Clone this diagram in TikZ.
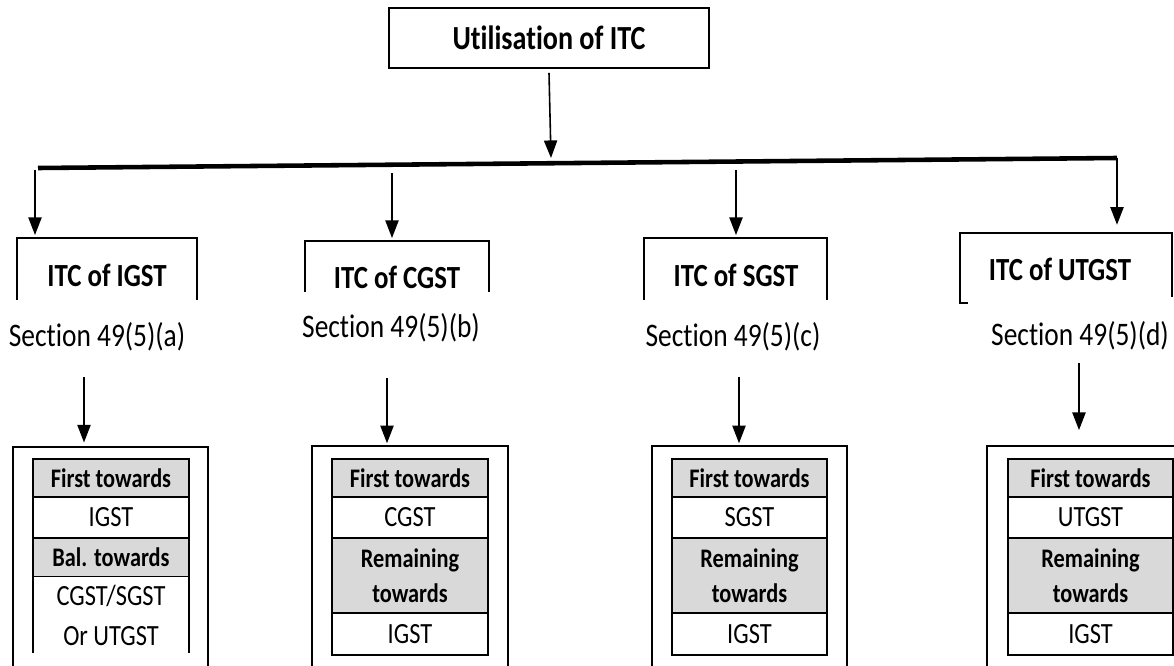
\documentclass[tikz,border=0pt]{standalone}
\usepackage{fontspec}
\setmainfont{Carlito}[Ligatures=NoCommon]
\usepackage{tikz}
\usetikzlibrary{arrows.meta,positioning}
\definecolor{HeadGray}{HTML}{D9D9D9}
\newcommand{\tallt}[1]{\scalebox{1}[1.2]{#1}}

\begin{document}
\begin{tikzpicture}[
    x=0.02cm, y=-0.02cm,
    arr/.style={-{Triangle[length=10pt,width=7.5pt]}, line width=0.9pt},
    bar/.style={line width=2.6pt},
    topbox/.style={draw, line width=1.1pt, minimum width=6.4cm, minimum height=1.2cm, font=\fontsize{16}{19}\selectfont\bfseries},
    brk/.style={inner sep=0pt, minimum height=1.24cm},
    brkline/.style={line width=1.2pt},
    brktext/.style={font=\fontsize{15.3}{18}\selectfont\bfseries},
    sect/.style={font=\fontsize{15.6}{18}\selectfont},
    outer/.style={draw, line width=1.3pt, inner sep=0pt, minimum height=5cm, anchor=north},
    hd/.style={draw, line width=0.7pt, fill=HeadGray, inner sep=0pt, outer sep=0pt, minimum width=3.12cm, align=center, font=\fontsize{12.7}{19.9}\selectfont\bfseries},
    val/.style={draw, line width=0.7pt, fill=white, inner sep=0pt, outer sep=0pt, minimum width=3.12cm, align=center, font=\fontsize{13.9}{22.8}\selectfont}
]
    \useasboundingbox (0,0) rectangle (1174,666);
    \clip (0,0) rectangle (1174,666);

    \node[topbox] (top) at (549,38) {\tallt{Utilisation of ITC}};

    \coordinate (barL) at (38,168);
    \coordinate (barR) at (1117,158);
    \coordinate (barM) at (551,158);
    \draw[bar] (barL) -- (barR);
    \draw[arr] ([yshift=-0.08cm]top.south) -- (barM);

    \node[brk, minimum width=3.6cm] (igst) at (107,269) {};
    \node[brk, minimum width=3.68cm, minimum height=1.02cm] (cgst) at (397,266.5) {};
    \node[brk, minimum width=3.66cm] (sgst) at (735.5,269) {};
    \node[brk, minimum width=4.24cm, minimum height=1.4cm] (utgst) at (1066,268) {};

    \draw[brkline] (igst.south west) |- (igst.north east) -- (igst.south east);
    \draw[brkline] (cgst.south west) |- (cgst.north east) -- (cgst.south east);
    \draw[brkline] (sgst.south west) |- (sgst.north east) -- (sgst.south east);
    \draw[brkline] ([xshift=0.16cm]utgst.south west) -- (utgst.south west) |- (utgst.north east) -- ([yshift=0.12cm]utgst.south east);

    \node[brktext] (igstT) at (107,275) {\tallt{ITC of IGST}};
    \node[brktext] (cgstT) at (397,277) {\tallt{ITC of CGST}};
    \node[brktext] (sgstT) at (736,275) {\tallt{ITC of SGST}};
    \node[brktext] (utgstT) at (1060,269) {\tallt{ITC of UTGST}};

    \coordinate (dA) at (35,170);
    \coordinate (dB) at (392,173);
    \coordinate (dC) at (736,170);
    \draw[arr, shorten >=1.5pt] (dA) -- (dA |- igst.north);
    \draw[arr, shorten >=1.5pt] (dB) -- (dB |- cgst.north);
    \draw[arr, shorten >=1.5pt] (dC) -- (dC |- sgst.north);
    \draw[arr, shorten >=4.5pt] (barR) -- (barR |- utgst.north);

    \node[sect] (secA) at (97,337) {\tallt{Section 49(5)(a)}};
    \node[sect] (secB) at (391,328) {\tallt{Section 49(5)(b)}};
    \node[sect] (secC) at (733,337) {\tallt{Section 49(5)(c)}};
    \node[sect] (secD) at (1080,336) {\tallt{Section 49(5)(d)}};

    \node[outer, minimum width=3.9cm] (boxA) at (110.5,446) {};
    \node[outer, minimum width=3.92cm] (boxB) at (410,445) {};
    \node[outer, minimum width=3.9cm] (boxC) at (749.5,445) {};
    \node[outer, minimum width=4.5cm] (boxD) at (1099.5,445) {};

    \coordinate (eA) at (84,377);
    \coordinate (eB) at (387,378);
    \coordinate (eC) at (739,377);
    \coordinate (eD) at (1079,363);
    \draw[arr, shorten >=2pt] (eA) -- (eA |- boxA.north);
    \draw[arr, shorten >=1pt] (eB) -- (eB |- boxB.north);
    \draw[arr, shorten >=1pt] (eC) -- (eC |- boxC.north);
    \draw[arr, shorten >=8.5pt] (eD) -- (eD |- boxD.north);

    \node[hd, minimum height=0.76cm, anchor=north] (a1) at (111,459) {\tallt{First towards}};
    \node[val, minimum height=0.82cm, below=0pt of a1] (a2) {\tallt{IGST}};
    \node[hd, minimum height=0.78cm, below=0pt of a2] (a3) {\tallt{Bal. towards}};
    \node[val, draw=none, minimum height=1.52cm, below=0pt of a3] (a4) {\tallt{CGST/SGST}\\\tallt{Or UTGST}};
    \draw[line width=0.7pt] (a4.north west) -- (a4.south west) (a4.north east) -- (a4.south east);

    \node[hd, minimum height=0.76cm, anchor=north] (b1) at (410,459) {\tallt{First towards}};
    \node[val, minimum height=0.82cm, below=0pt of b1] (b2) {\tallt{CGST}};
    \node[hd, minimum height=1.5cm, below=0pt of b2] (b3) {\tallt{Remaining}\\\tallt{towards}};
    \node[val, minimum height=0.84cm, below=0pt of b3] (b4) {\tallt{IGST}};

    \node[hd, minimum height=0.76cm, minimum width=3.1cm, anchor=north] (c1) at (749.5,459) {\tallt{First towards}};
    \node[val, minimum height=0.82cm, minimum width=3.1cm, below=0pt of c1] (c2) {\tallt{SGST}};
    \node[hd, minimum height=1.5cm, minimum width=3.1cm, below=0pt of c2] (c3) {\tallt{Remaining}\\\tallt{towards}};
    \node[val, minimum height=0.84cm, minimum width=3.1cm, below=0pt of c3] (c4) {\tallt{IGST}};

    \node[hd, minimum height=0.76cm, minimum width=3.3cm, anchor=north] (d1) at (1090.5,459) {\tallt{First towards}};
    \node[val, minimum height=0.82cm, minimum width=3.3cm, below=0pt of d1] (d2) {\tallt{UTGST}};
    \node[hd, minimum height=1.5cm, minimum width=3.3cm, below=0pt of d2] (d3) {\tallt{Remaining}\\\tallt{towards}};
    \node[val, minimum height=0.84cm, minimum width=3.3cm, below=0pt of d3] (d4) {\tallt{IGST}};
\end{tikzpicture}
\end{document}
